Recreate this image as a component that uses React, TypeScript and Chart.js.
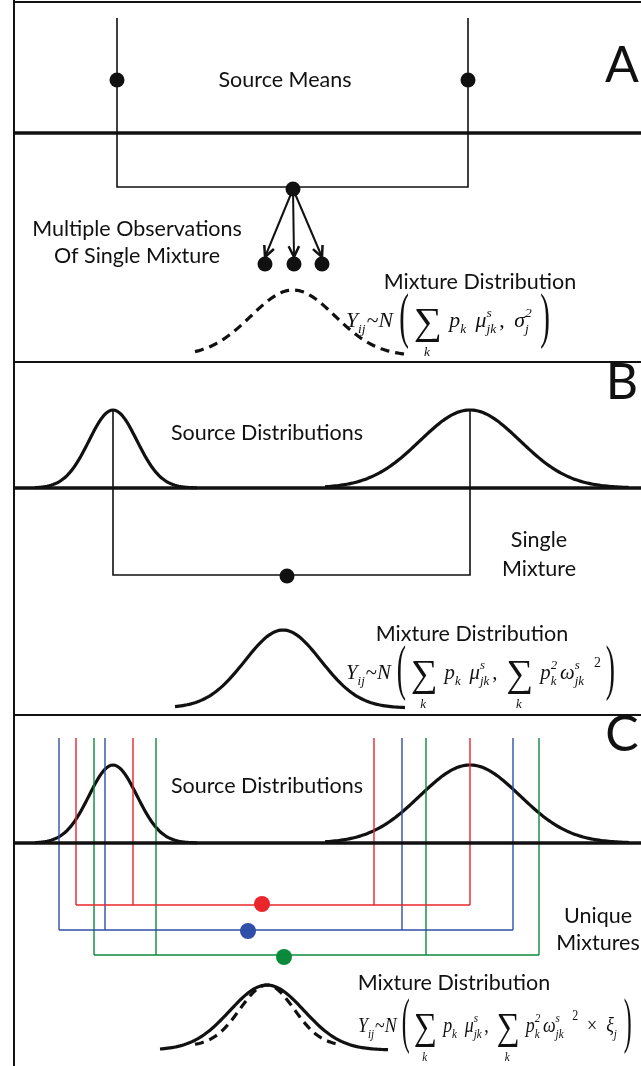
import React, { useEffect, useRef } from "react";
import { Chart, registerables } from "chart.js";
Chart.register(...registerables);

const W = 641, H = 1066;
// frame lines: [x1,y1,x2,y2,width]
const frameLines = [
  [14, 0, 14, 1066, 2], [14, 2, 641, 2, 2], [14, 362, 641, 362, 2], [14, 715, 641, 715, 2],
  [14, 133, 641, 133, 3.5], [14, 488, 641, 488, 3.5], [14, 843, 641, 843, 3.5],
];
const bracketsBlack = [
  [[117, 18], [117, 187], [468, 187], [468, 18]],
  [[113, 410], [113, 575], [470, 575], [470, 410]],
];
const colorRed = "#e8262b", colorBlue = "#2f4fa8", colorGreen = "#0a8a3a";
const bracketsC = [
  { c: colorRed, y: 905, xs: [76, 133, 374, 470] },
  { c: colorBlue, y: 930, xs: [59, 105, 402, 513] },
  { c: colorGreen, y: 955, xs: [94, 156, 426, 539] },
];
const dotsBlack = [[117, 80], [468, 80], [293, 189], [265, 264], [294, 264], [322, 264], [287, 576]];
const dotsColor = [[262, 904, colorRed], [248, 931, colorBlue], [284, 957, colorGreen]];
const arrows = [[293, 189, 265, 257], [293, 189, 294, 257], [293, 189, 322, 257]];
// gaussians: mean, sd, peak y, base y, x from, x to, dashed
const gaussians = [
  [293, 42, 290, 356, 195, 405, true],
  [113, 24, 410, 488, 35, 197, false],
  [470, 50, 410, 488, 325, 630, false],
  [283, 38, 630, 708, 175, 405, false],
  [113, 24, 765, 843, 35, 197, false],
  [470, 50, 765, 843, 325, 630, false],
  [267, 37, 985, 1050, 160, 388, false],
  [267, 27, 985, 1046, 195, 340, true],
];
const labels = [
  ["Source Means", 285, 80, 21.5, "center"],
  ["Multiple Observations", 137, 229, 21.5, "center"],
  ["Of Single Mixture", 137, 256, 21.5, "center"],
  ["Mixture Distribution", 480, 282, 21.5, "center"],
  ["Source Distributions", 267, 433, 21.5, "center"],
  ["Single", 539, 540, 21.5, "center"],
  ["Mixture", 539, 569, 21.5, "center"],
  ["Mixture Distribution", 472, 634, 21.5, "center"],
  ["Source Distributions", 267, 786, 21.5, "center"],
  ["Unique", 598, 916, 21.5, "center"],
  ["Mixtures", 598, 943, 21.5, "center"],
  ["Mixture Distribution", 454, 983, 21.5, "center"],
  ["A", 622, 66, 50, "center"],
  ["B", 622, 383, 50, "center"],
  ["C", 622, 735, 50, "center"],
];
// formula anchors: x start, baseline y, x end, variant
const formulas = [[346, 327, 555, "A"], [346, 679, 620, "B"], [358, 1032, 636, "C"]];

function gaussPts(g: any[]) {
  const [m, s, py, by, x0, x1] = g;
  const pts = [];
  for (let x = x0; x <= x1; x += 2) {
    pts.push({ x, y: by - (by - py) * Math.exp(-((x - m) ** 2) / (2 * s * s)) });
  }
  return pts;
}

export default function App() {
  const ref = useRef<HTMLCanvasElement>(null);
  useEffect(() => {
    document.body.style.margin = "0";
    const ds: any[] = [];
    const line = (pts: any[], c: string, w: number, dash: number[] = []) =>
      ds.push({ data: pts, showLine: true, borderColor: c, borderWidth: w, borderDash: dash, pointRadius: 0, fill: false, tension: 0 });
    frameLines.forEach(([a, b, c, d, w]) => line([{ x: a, y: b }, { x: c, y: d }], "#111", w));
    bracketsBlack.forEach((p) => line(p.map(([x, y]) => ({ x, y })), "#111", 1.6));
    bracketsC.forEach(({ c, y, xs }) => {
      line([{ x: xs[0], y }, { x: xs[3], y }], c, 1.4);
      xs.forEach((x) => line([{ x, y: 738 }, { x, y }], c, 1.4));
    });
    arrows.forEach(([a, b, c, d]) => line([{ x: a, y: b }, { x: c, y: d }], "#111", 2));
    gaussians.forEach((g) => line(gaussPts(g), "#111", 3.2, g[6] ? [9, 6] : []));
    ds.push({ data: dotsBlack.map(([x, y]) => ({ x, y })), pointRadius: 7.5, pointBackgroundColor: "#111", pointBorderWidth: 0, showLine: false });
    dotsColor.forEach(([x, y, c]) => ds.push({ data: [{ x, y }], pointRadius: 8, pointBackgroundColor: c, pointBorderWidth: 0, showLine: false }));

    const textPlugin = {
      id: "txt",
      afterDatasetsDraw(chart: any) {
        const ctx = chart.ctx, sx = chart.scales.x, sy = chart.scales.y;
        const X = (v: number) => sx.getPixelForValue(v), Y = (v: number) => sy.getPixelForValue(v);
        ctx.save();
        ctx.fillStyle = "#111";
        arrows.forEach(([a, b, c, d]) => {
          const x2 = X(c), y2 = Y(d), ang = Math.atan2(y2 - Y(b), x2 - X(a));
          ctx.beginPath();
          ctx.moveTo(x2, y2);
          ctx.lineTo(x2 - 12 * Math.cos(ang - 0.45), y2 - 12 * Math.sin(ang - 0.45));
          ctx.moveTo(x2, y2);
          ctx.lineTo(x2 - 12 * Math.cos(ang + 0.45), y2 - 12 * Math.sin(ang + 0.45));
          ctx.strokeStyle = "#111"; ctx.lineWidth = 2.5; ctx.stroke();
        });
        ctx.textBaseline = "middle";
        labels.forEach(([t, x, y, s, al]: any) => {
          ctx.font = `${s}px Lato, 'Open Sans', sans-serif`;
          ctx.textAlign = al;
          ctx.fillText(t, X(x), Y(y));
        });
        ctx.textAlign = "left";
        ctx.textBaseline = "alphabetic";
        const F = 21, S = 13;
        const layout = (v: string, draw: boolean) => {
          let x = 0; const y = 0;
          const put = (s: string, size = F, italic = true, dy = 0) => {
            ctx.font = `${italic ? "italic " : ""}${size}px 'Liberation Serif', serif`;
            if (draw) ctx.fillText(s, x, y + dy);
            x += ctx.measureText(s).width;
          };
          const subsup = (main: string, sub: string, sup: string) => {
            put(main);
            const x0 = x;
            if (sup) put(sup, S, true, -10);
            const x1 = x; x = x0;
            if (sub) put(sub, S, true, 6);
            x = Math.max(x, x1) + 3;
          };
          const sum = () => {
            ctx.font = `38px 'Liberation Serif', serif`;
            const w = ctx.measureText("∑").width;
            if (draw) ctx.fillText("∑", x, y + 7);
            ctx.font = `italic ${S}px 'Liberation Serif', serif`;
            if (draw) ctx.fillText("k", x + w / 2 - 4, y + 29);
            x += w + 7;
          };
          const paren = (p: string) => {
            ctx.save();
            ctx.font = `28px 'Liberation Serif', serif`;
            ctx.translate(x, y);
            ctx.scale(1, 2.2);
            if (draw) ctx.fillText(p, 0, 4);
            x += ctx.measureText(p).width + 5;
            ctx.restore();
          };
          subsup("Y", "ij", ""); x -= 2;
          put("~", F, false); put("N"); x += 6;
          paren("(");
          sum();
          subsup("p", "k", ""); x += 6;
          subsup("μ", "jk", "s");
          put(", ", F, false); x += 4;
          if (v === "A") {
            subsup("σ", "j", "2");
          } else {
            sum();
            subsup("p", "k", "2");
            subsup("ω", "jk", "s");
            put("  2", S + 1, false, -12);
            if (v === "C") { put("  ×  ", F, false); subsup("ξ", "j", ""); }
          }
          x += 5;
          paren(")");
          return x;
        };
        formulas.forEach(([fx, fy, fe, v]: any) => {
          const w = layout(v, false);
          ctx.save();
          ctx.translate(X(fx), Y(fy));
          ctx.scale((X(fe) - X(fx)) / w, 1);
          layout(v, true);
          ctx.restore();
        });
        ctx.restore();
      },
    };

    const chart = new Chart(ref.current!, {
      type: "scatter",
      data: { datasets: ds },
      options: {
        animation: false, responsive: false, maintainAspectRatio: false,
        layout: { padding: 0, autoPadding: false },
        plugins: { legend: { display: false }, tooltip: { enabled: false } },
        scales: {
          x: { type: "linear", min: 0, max: W, display: false },
          y: { type: "linear", min: 0, max: H, reverse: true, display: false },
        },
      },
      plugins: [textPlugin],
    });
    return () => chart.destroy();
  }, []);
  return <canvas ref={ref} width={W} height={H} style={{ display: "block", background: "#fff" }} />;
}
